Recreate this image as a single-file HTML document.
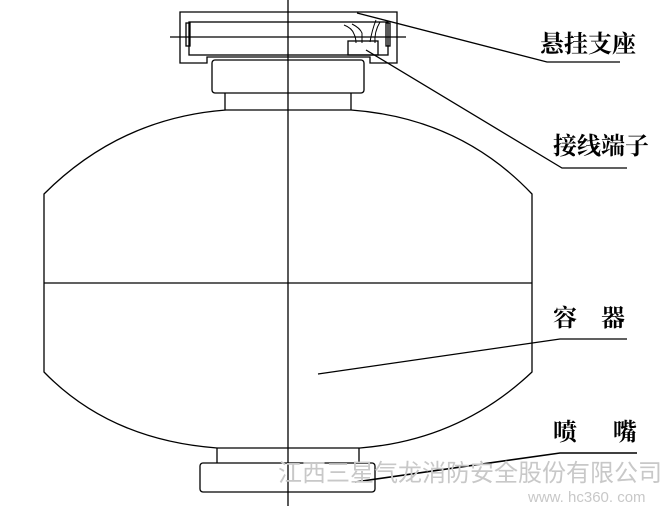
<!DOCTYPE html>
<html><head><meta charset="utf-8"><style>
html,body{margin:0;padding:0;background:#fff;width:668px;height:506px;overflow:hidden}
svg{display:block}
.l{font-family:"Liberation Serif","Noto Serif CJK SC",serif;font-size:24px;font-weight:bold;fill:#000}
</style></head><body>
<svg width="668" height="506" viewBox="0 0 668 506" xmlns="http://www.w3.org/2000/svg">
<g fill="none" stroke="#000" stroke-width="1.3">
<!-- bracket -->
<path d="M180,63 V12 H397 V63 H370 V57 H207 V63 Z"/>
<rect x="189" y="22" width="199" height="33"/>
<rect x="186" y="23" width="4" height="23"/>
<rect x="386" y="23" width="4" height="23"/>
<rect x="348" y="41" width="30" height="14"/>
<path d="M344,25 Q352,28 354,34 Q356,38 356,43 M352,24 Q360,28 362,33 V43 M376,20 Q372,30 370,42 M380,22 Q374,32 375,43" stroke-width="1"/>
<line x1="170" y1="37" x2="406" y2="37"/>
<!-- cylinder -->
<rect x="212" y="60" width="152" height="33" rx="3"/>
<path d="M225,93 V110 M351,93 V110"/>
<!-- body -->
<path d="M44,372 V194 Q120,118 226,110 H351 Q460,118 532,194 V372 Q460,440 360,448 H217 Q110,440 44,372 Z"/>
<line x1="44" y1="283" x2="532" y2="283"/>
<!-- bottom -->
<path d="M217,448 V463 M359,448 V463"/>
<rect x="200" y="463" width="175" height="29" rx="3"/>
<!-- center line -->
<line x1="288" y1="0" x2="288" y2="506"/>
<!-- leaders -->
<polyline points="357,13 547,62 620,62"/>
<polyline points="366,50 562,168 627,168"/>
<polyline points="318,374 560,339 627,339"/>
<polyline points="355,482 560,453 637,453" stroke-width="1.6"/>
</g>
<text class="l" x="540" y="52">悬挂支座</text>
<text class="l" x="553" y="154">接线端子</text>
<text class="l" x="553" y="326">容</text>
<text class="l" x="601" y="326">器</text>
<text class="l" x="553" y="440">喷</text>
<text class="l" x="613" y="440">嘴</text>
<text x="278" y="481" font-family="'Liberation Sans','Noto Sans CJK SC',sans-serif" font-size="24" fill="#c8c8c8">江西三星气龙消防安全股份有限公司</text>
<text x="528" y="502" font-family="'Liberation Sans',sans-serif" font-size="15" fill="#c8c8c8">www. hc360. com</text>
</svg>
</body></html>
